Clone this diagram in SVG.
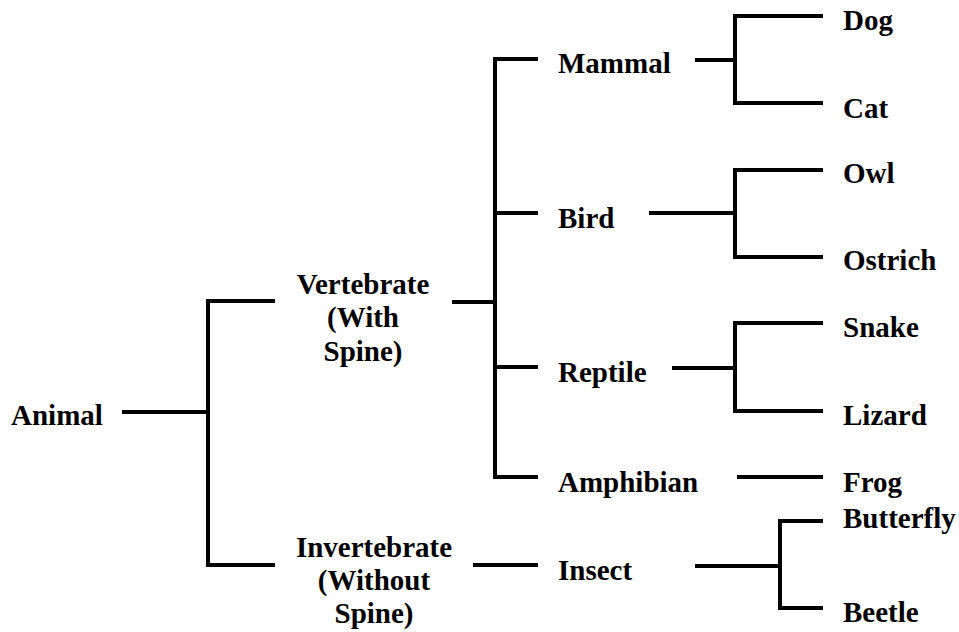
<svg xmlns="http://www.w3.org/2000/svg" width="959" height="632" viewBox="0 0 959 632">
<style>
text{font-family:"Liberation Serif","Times New Roman",serif;font-weight:bold;font-size:29px;fill:#000}
.c{text-anchor:middle}
#connectors path{fill:none;stroke:#000;stroke-width:4;stroke-linejoin:miter;stroke-linecap:butt}
</style>
<rect width="959" height="632" fill="#fff"/>
<g id="connectors">
<path d="M122 412H208"/>
<path d="M275 301H208V565H275"/>
<path d="M452 302H495"/>
<path d="M538 59H495V477H538"/>
<path d="M495 213H538"/>
<path d="M495 367H538"/>
<path d="M473 565H538"/>
<path d="M695 60H735"/>
<path d="M823 16H735V103H823"/>
<path d="M649 213H735"/>
<path d="M823 170H735V257H823"/>
<path d="M672 368H735"/>
<path d="M823 323H735V411H823"/>
<path d="M737 477H823"/>
<path d="M695 566H780"/>
<path d="M823 521H780V608H823"/>
</g>
<g id="animal"><text x="11" y="425">Animal</text></g>
<g id="vertebrate"><text class="c" x="363" y="294">Vertebrate</text><text class="c" x="363" y="327">(With</text><text class="c" x="363" y="361">Spine)</text></g>
<g id="invertebrate"><text class="c" x="374" y="557">Invertebrate</text><text class="c" x="374" y="590">(Without</text><text class="c" x="374" y="623">Spine)</text></g>
<g id="mammal"><text x="558" y="73">Mammal</text></g>
<g id="bird"><text x="558" y="228">Bird</text></g>
<g id="reptile"><text x="558" y="382">Reptile</text></g>
<g id="amphibian"><text x="558" y="492">Amphibian</text></g>
<g id="insect"><text x="558" y="580">Insect</text></g>
<g id="dog"><text x="843" y="30">Dog</text></g>
<g id="cat"><text x="843" y="118">Cat</text></g>
<g id="owl"><text x="843" y="183">Owl</text></g>
<g id="ostrich"><text x="843" y="270">Ostrich</text></g>
<g id="snake"><text x="843" y="337">Snake</text></g>
<g id="lizard"><text x="843" y="425">Lizard</text></g>
<g id="frog"><text x="843" y="492">Frog</text></g>
<g id="butterfly"><text x="843" y="528">Butterfly</text></g>
<g id="beetle"><text x="843" y="622">Beetle</text></g>
</svg>
